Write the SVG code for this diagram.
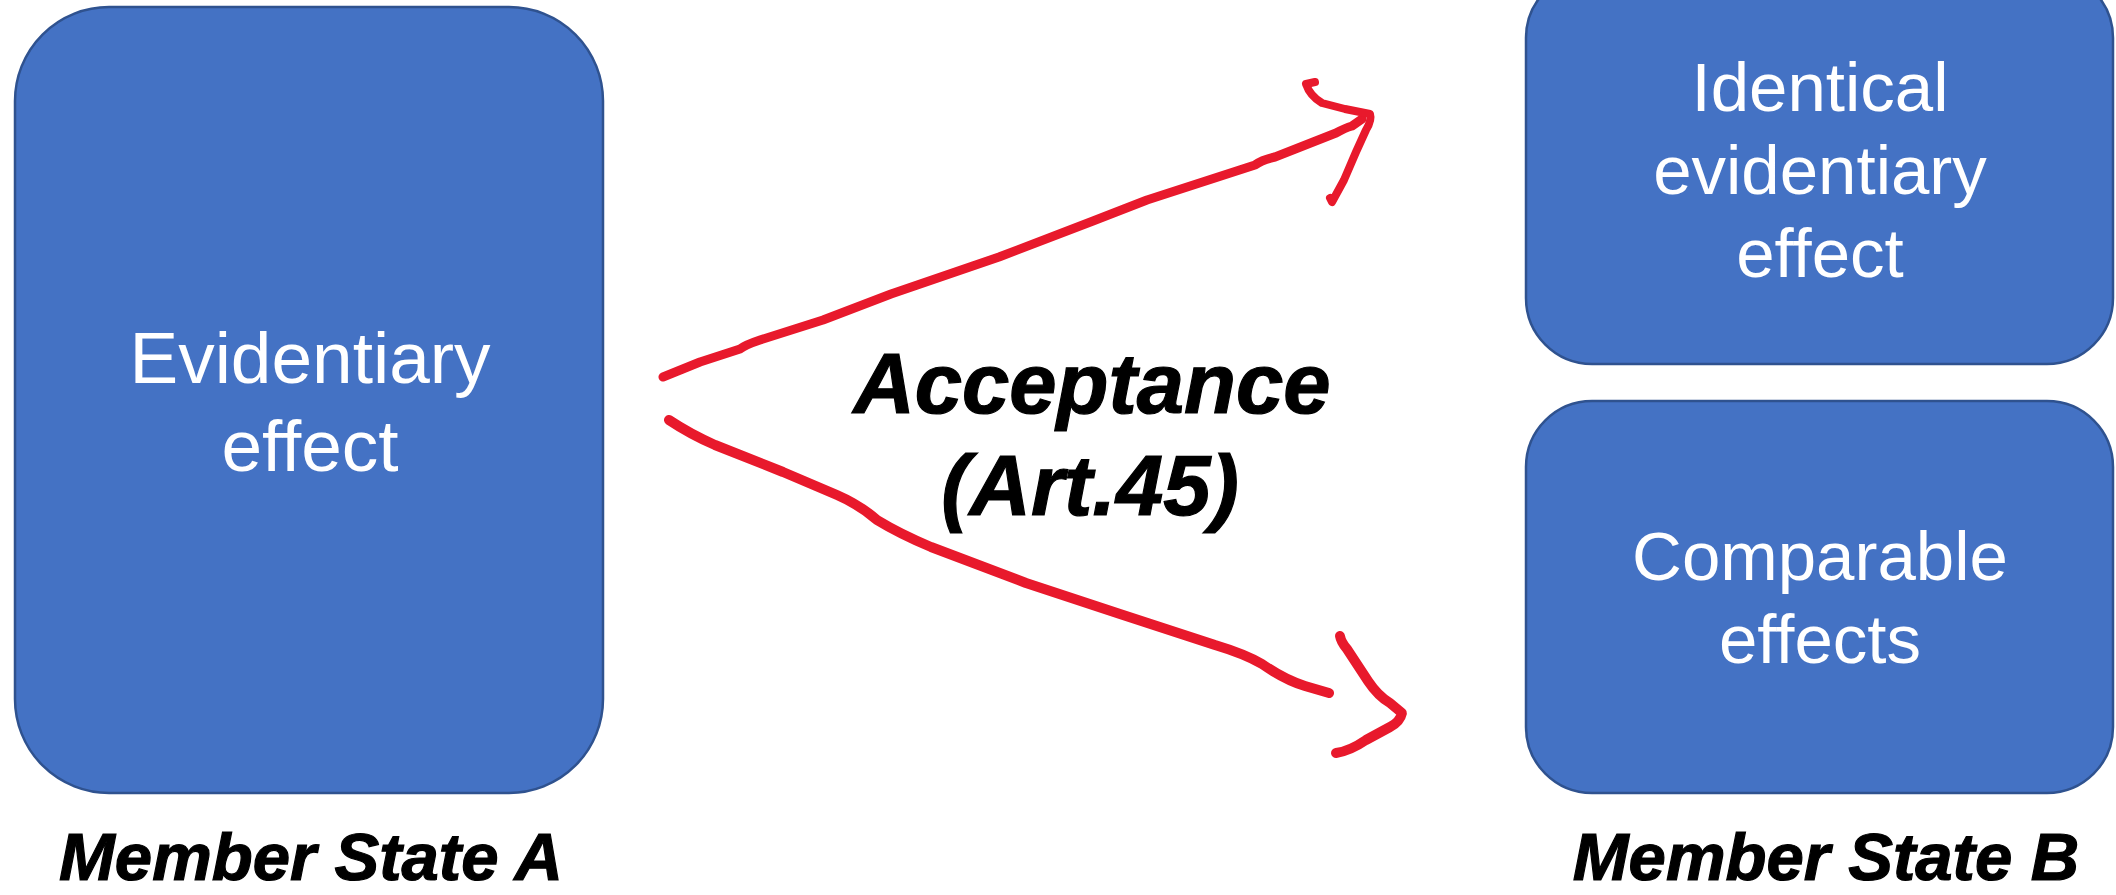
<svg xmlns="http://www.w3.org/2000/svg" width="2116" height="895" viewBox="0 0 2116 895">
<style>
.box{fill:#4472C4;stroke:#2F528F;stroke-width:2.5}
.bt{font-family:"Liberation Sans",Arial,sans-serif;fill:#FFFFFF;text-anchor:middle}
.lbl{font-family:"Liberation Sans",Arial,sans-serif;font-weight:bold;font-style:italic;fill:#000000;stroke:#000000;stroke-width:1.2;text-anchor:middle}
.ink{fill:none;stroke:#E8192C;stroke-linecap:round;stroke-linejoin:round}
</style>
<rect width="2116" height="895" fill="#FFFFFF"/>
<g id="node-a">
<rect class="box" x="15" y="7" width="588" height="786" rx="94" ry="94"/>
<text class="bt" font-size="73" x="310" y="383">Evidentiary</text>
<text class="bt" font-size="73" x="310" y="471">effect</text>
</g>
<g id="node-identical">
<rect class="box" x="1526" y="-28" width="587" height="392" rx="66" ry="66"/>
<text class="bt" font-size="69" x="1820" y="111">Identical</text>
<text class="bt" font-size="69" x="1820" y="194">evidentiary</text>
<text class="bt" font-size="69" x="1820" y="277">effect</text>
</g>
<g id="node-comparable">
<rect class="box" x="1526" y="401" width="587" height="392" rx="66" ry="66"/>
<text class="bt" font-size="69" x="1820" y="580">Comparable</text>
<text class="bt" font-size="69" x="1820" y="663">effects</text>
</g>
<g id="label-acceptance">
<text class="lbl" font-size="85" x="1092" y="413">Acceptance</text>
<text class="lbl" font-size="85" x="1090" y="515">(Art.45)</text>
</g>
<g id="label-a">
<text class="lbl" font-size="67" x="311" y="880">Member State A</text>
</g>
<g id="label-b">
<text class="lbl" font-size="67" x="1826" y="880">Member State B</text>
</g>
<g id="connectors">
<path class="ink" stroke-width="9" d="M663,377 L700,362 L740,349 Q745,345 760,340 L823,320 L891,294 L999,257 L1093,221 L1147,200 L1255,165 Q1262,160 1275,157 L1336,133 Q1345,128 1352,126 L1362,119"/>
<path class="ink" stroke-width="8" d="M1306,84 L1315,82 M1306,84 Q1310,96 1322,103 L1345,109 L1370,114 Q1372,120 1366,130 L1356,152 L1344,180 L1332,202 L1330,198"/>
<path class="ink" stroke-width="10" d="M669,420 Q690,434 715,445 L783,472 L837,495 Q860,505 877,520 Q900,534 931,547 L1026,583 L1120,614 L1215,645 Q1245,654 1262,664 Q1285,680 1305,686 L1329,693"/>
<path class="ink" stroke-width="10" d="M1340,636 Q1341,642 1347,649 L1368,681 Q1378,696 1390,703 L1402,713 Q1400,722 1390,727 L1366,740 Q1350,751 1336,753"/>
</g>
</svg>
